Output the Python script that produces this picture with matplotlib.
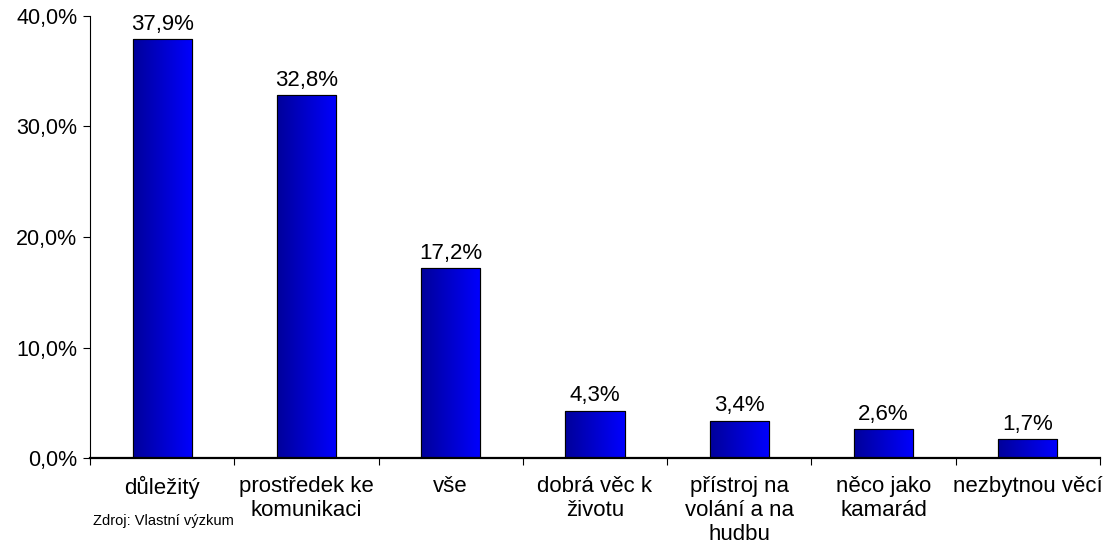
import numpy as np
import matplotlib.pyplot as plt
from matplotlib.ticker import FuncFormatter, FixedLocator
from matplotlib.colors import LinearSegmentedColormap

plt.rcParams['font.family'] = ['Liberation Sans', 'DejaVu Sans']

categories = ['důležitý', 'prostředek ke\nkomunikaci', 'vše', 'dobrá věc k\nživotu',
              'přístroj na\nvolání a na\nhudbu', 'něco jako\nkamarád', 'nezbytnou věcí']
values = [37.9, 32.8, 17.2, 4.3, 3.4, 2.6, 1.7]
yticks = [0, 10, 20, 30, 40]

fig = plt.figure(figsize=(11.11, 5.46), dpi=100)
ax = fig.add_axes([0.081, 0.161, 0.909, 0.810])

x = np.arange(len(categories))
bars = ax.bar(x, values, width=0.41, color='#0000e0', edgecolor='black', linewidth=0.8, zorder=2)

# horizontal gradient inside each bar, dark navy -> bright blue
grad = np.linspace(0, 1, 256).reshape(1, -1)
cmap = LinearSegmentedColormap.from_list('blu', ['#00009a', '#0000ff'])
for b in bars:
    x0, y0 = b.get_x(), b.get_y()
    w, h = b.get_width(), b.get_height()
    im = ax.imshow(grad, cmap=cmap, extent=[x0, x0 + w, y0, y0 + h],
                   aspect='auto', zorder=2.5, interpolation='bilinear')
    im.set_clip_path(b)
    ax.bar(x0 + w / 2, h, width=w, facecolor='none', edgecolor='black', linewidth=0.8, zorder=3)

for xi, v in zip(x, values):
    ax.annotate(f'{v:.1f}%'.replace('.', ','), (xi, v), xytext=(0, 3), textcoords='offset points',
                ha='center', va='bottom', fontsize=16)

ax.set_xlim(-0.5, len(categories) - 0.5)
ax.set_ylim(0, 40)
ax.set_yticks(yticks)
ax.yaxis.set_major_formatter(FuncFormatter(lambda v, p: f'{v:.1f}%'.replace('.', ',')))
ax.tick_params(axis='y', labelsize=15.5, length=5, width=0.8, direction='out', pad=4)

# category boundaries as major ticks, labels on minor ticks
ax.xaxis.set_major_locator(FixedLocator(np.arange(len(categories) + 1) - 0.5))
ax.xaxis.set_ticklabels([])
ax.xaxis.set_minor_locator(FixedLocator(x))
ax.set_xticklabels(categories, minor=True, fontsize=16, linespacing=1.18)
ax.tick_params(axis='x', which='major', length=5, width=0.8, direction='out')
ax.tick_params(axis='x', which='minor', length=0, pad=13)

for s in ['top', 'right']:
    ax.spines[s].set_visible(False)
ax.spines['left'].set_linewidth(0.8)
ax.spines['bottom'].set_linewidth(1.6)

fig.text(93 / 1111, 1 - 521 / 546, 'Zdroj: Vlastní výzkum', fontsize=10.5, ha='left', va='center')

plt.savefig('out.png', dpi=100)
